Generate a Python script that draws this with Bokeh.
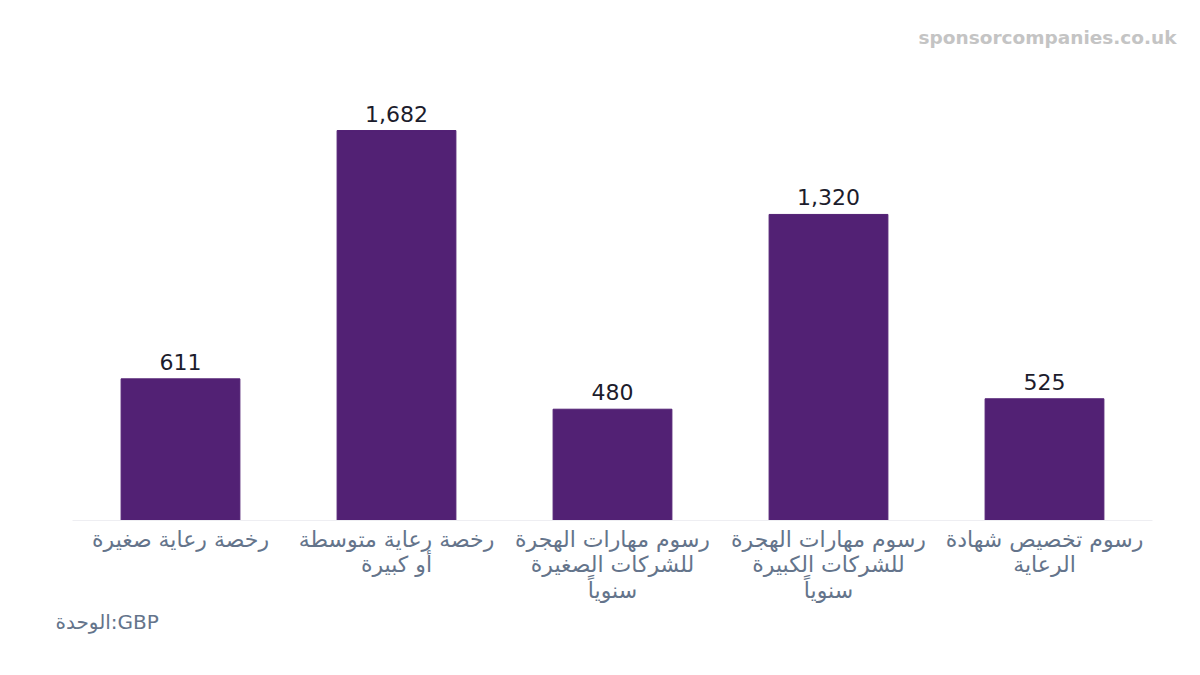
from bokeh.plotting import figure
from bokeh.models import ColumnDataSource, Range1d, Title
from bokeh.core.properties import value
from bokeh.embed import file_html
from bokeh.resources import INLINE

#### DATA ####
categories = [
    "رخصة رعاية صغيرة",
    "رخصة رعاية متوسطة\nأو كبيرة",
    "رسوم مهارات الهجرة\nللشركات الصغيرة\nسنوياً",
    "رسوم مهارات الهجرة\nللشركات الكبيرة\nسنوياً",
    "رسوم تخصيص شهادة\nالرعاية",
]
fees = [611, 1682, 480, 1320, 525]
fee_labels = ["{:,}".format(v) for v in fees]

source = ColumnDataSource(data=dict(cat=categories, fee=fees, label=fee_labels))

#### FIGURE ####
p = figure(x_range=categories, y_range=Range1d(0, 1984),
           width=1184, height=659, output_backend="svg", toolbar_location=None,
           min_border_left=72, min_border_right=32, min_border_top=60, min_border_bottom=139)
p.outline_line_color = None
p.background_fill_color = "white"
p.border_fill_color = "white"
p.grid.grid_line_color = None

#bars
p.vbar(x="cat", top="fee", width=0.55, source=source, color="#522174")

#values above bars
p.text(x="cat", y="fee", text="label", source=source, text_align="center",
       text_baseline="bottom", y_offset=-9, text_font_size="22px",
       text_color="#1c1c2c", text_font=value("DejaVu Sans"))

#axes
p.yaxis.visible = False
p.xaxis.axis_line_color = "#eeeef2"
p.xaxis.major_tick_line_color = None
p.xaxis.minor_tick_line_color = None
p.xaxis.major_label_text_font = "DejaVu Sans"
p.xaxis.major_label_text_font_size = "22px"
p.xaxis.major_label_text_line_height = 1.03
p.xaxis.major_label_text_color = "#64748b"
p.xaxis.major_label_standoff = 0

#watermark above, unit note below
p.add_layout(Title(text="sponsorcompanies.co.uk", align="right", offset=-24, standoff=25,
                   text_font="DejaVu Sans", text_font_style="bold", text_font_size="18.5px",
                   text_color="#c4c4c4"), "above")
p.add_layout(Title(text="الوحدة:GBP", align="left", offset=-17, standoff=2,
                   text_font="DejaVu Sans", text_font_style="normal", text_font_size="20px",
                   text_color="#64748b"), "below")

open("out.html", "w").write(file_html(p, INLINE))
